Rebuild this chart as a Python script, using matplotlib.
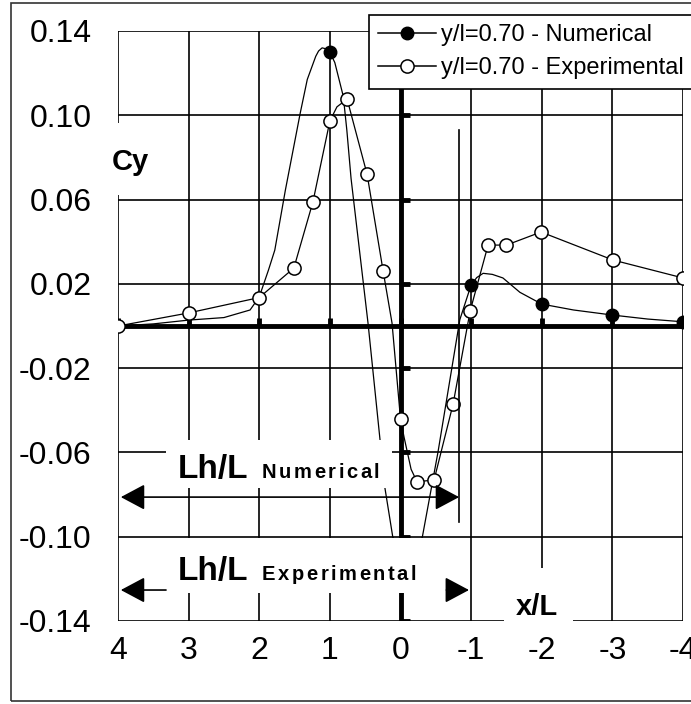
import matplotlib
matplotlib.use("Agg")
import matplotlib.pyplot as plt
import matplotlib.patches as patches
from matplotlib.font_manager import FontProperties
from matplotlib.textpath import TextToPath

plt.rcParams['font.family'] = ['Liberation Sans', 'DejaVu Sans']

num_curve_x = [4.0, 3.5, 3.0, 2.5, 2.13, 2.0, 1.87, 1.78, 1.63, 1.42, 1.32, 1.2, 1.16, 1.11,
               1.05, 1.0, 0.93, 0.81, 0.76, 0.70, 0.46, 0.29, 0.22, 0.11, -0.1, -0.31, -0.53,
               -0.84, -1.0, -1.08, -1.17, -1.3, -1.45, -1.69, -2.0, -2.45, -3.0, -3.5, -4.0]
num_curve_y = [0.0, 0.001, 0.0028, 0.004, 0.0076, 0.0138, 0.0265, 0.036, 0.0645, 0.101, 0.117,
               0.128, 0.1305, 0.132, 0.1315, 0.130, 0.125, 0.109, 0.093, 0.07, 0.0014, -0.054,
               -0.077, -0.10, -0.12, -0.10, -0.06, 0.003, 0.0195, 0.023, 0.025, 0.0245, 0.0228,
               0.016, 0.0104, 0.0076, 0.0052, 0.0033, 0.002]
num_x = [1.0, -1.0, -2.0, -3.0, -4.0]
num_y = [0.130, 0.0195, 0.0104, 0.0052, 0.002]

# experimental series
exp_x = [4.0, 3.0, 2.0, 1.51, 1.24, 1.0, 0.756, 0.473, 0.246, 0.0, -0.235, -0.476,
         -0.745, -0.986, -1.24, -1.50, -1.99, -3.01, -4.0]
exp_y = [0.0, 0.0062, 0.0135, 0.0275, 0.0589, 0.0973, 0.1077, 0.0720, 0.0261, -0.0441,
         -0.074, -0.073, -0.037, 0.0071, 0.0384, 0.0384, 0.0446, 0.0313, 0.0228]
exp_curve_x = [4.0, 3.0, 2.0, 1.51, 1.24, 1.0, 0.9, 0.756, 0.473, 0.246, 0.12, 0.0, -0.05,
               -0.15, -0.235, -0.476, -0.745, -0.986, -1.24, -1.50, -1.99, -3.01, -4.0]
exp_curve_y = [0.0, 0.0062, 0.0135, 0.0275, 0.0589, 0.0973, 0.104, 0.1077, 0.0720, 0.0261,
               0.0014, -0.0441, -0.0527, -0.068, -0.074, -0.073, -0.037, 0.0071, 0.0384,
               0.0384, 0.0446, 0.0313, 0.0228]

x_ticks = [4, 3, 2, 1, 0, -1, -2, -3, -4]
x_labels = ['4', '3', '2', '1', '0', '-1', '-2', '-3', '-4']
y_ticks = [0.14, 0.10, 0.06, 0.02, -0.02, -0.06, -0.10, -0.14]
y_labels = ['0.14', '0.10', '0.06', '0.02', '-0.02', '-0.06', '-0.10', '-0.14']

lh_num = -0.83   # end of Lh/L numerical
lh_exp = -0.97   # end of Lh/L experimental

fig = plt.figure(figsize=(6.91, 7.04), dpi=100)
ax = fig.add_axes([118 / 691, 83 / 704, 565 / 691, 590 / 704])
ax.set_xlim(4, -4)
ax.set_ylim(-0.14, 0.14)
for s in ax.spines.values():
    s.set_visible(False)

# grid + frame
for xv in x_ticks:
    ax.axvline(xv, color='black', lw=1.2, zorder=1)
for yv in y_ticks:
    ax.axhline(yv, color='black', lw=1.2, zorder=1)

# thick axes with short stubs
ax.axhline(0, color='black', lw=3.5, zorder=3)
ax.axvline(0, color='black', lw=3.5, zorder=3)
for xv in x_ticks:
    ax.plot([xv, xv], [0, 0.004], color='black', lw=3.5, zorder=3, solid_capstyle='butt')
for yv in y_ticks:
    ax.plot([0, -0.13], [yv, yv], color='black', lw=3.5, zorder=3, solid_capstyle='butt')

# curves
ax.plot(num_curve_x, num_curve_y, color='black', lw=0.9, zorder=2)
ax.plot(exp_curve_x, exp_curve_y, color='black', lw=0.9, zorder=2)
ax.plot(num_x, num_y, 'o', color='black', ms=9, zorder=4)
ax.plot(exp_x, exp_y, 'o', mfc='white', mec='black', mew=1.1, ms=9.5, zorder=4)

# legend (proxy handles)
h1, = ax.plot([], [], '-o', color='black', lw=1.1, ms=9, label='y/l=0.70 - Numerical')
h2, = ax.plot([], [], '-o', color='black', mfc='white', lw=1.1, ms=9.5, mew=1.1,
              label='y/l=0.70 - Experimental')
leg = fig.legend(handles=[h1, h2], loc='upper left', bbox_to_anchor=(369 / 691, 1 - 15 / 704),
                 fontsize=17, frameon=True, fancybox=False, framealpha=1, edgecolor='black',
                 handlelength=2.45, handletextpad=0.2, borderpad=0.4, labelspacing=0.45,
                 borderaxespad=0)
leg.get_frame().set_linewidth(1.2)
leg.set_zorder(10)

# tick labels
ax.set_xticks(x_ticks)
ax.set_xticklabels(x_labels)
ax.set_yticks(y_ticks)
ax.set_yticklabels(y_labels)
ax.tick_params(axis='both', length=0, labelsize=23)
ax.tick_params(axis='y', pad=19)
ax.tick_params(axis='x', pad=11)

# white label boxes
def white_box(x0, x1, y0, y1):
    ax.add_patch(patches.Rectangle((x0, y0), x1 - x0, y1 - y0, facecolor='white',
                                   edgecolor='none', zorder=5, clip_on=False))

white_box(3.32, 0.12, -0.0769, -0.0541)
white_box(3.32, -0.62, -0.1267, -0.1006)
white_box(4.25, 3.48, 0.0622, 0.0963)
white_box(-1.47, -2.44, -0.143, -0.1149)

ax.text(3.83, 0.078, 'Cy', fontsize=21, fontweight='bold', ha='center', va='center', zorder=6)
ax.text(-1.93, -0.1334, 'x/L', fontsize=21, fontweight='bold', ha='center', va='center', zorder=6)

t2p = TextToPath()

def spaced_text(x, y, s, size, gap):
    fp = FontProperties(family='Liberation Sans', weight='bold', size=size)
    for i, ch in enumerate(s):
        w = t2p.get_text_width_height_descent(s[:i], fp, ismath=False)[0] if i else 0
        ax.annotate(ch, (x, y), xytext=(w + i * gap, 0), textcoords='offset points',
                    fontproperties=fp, ha='left', va='baseline', zorder=6)

ax.text(3.16, -0.0721, 'Lh/L', fontsize=24, fontweight='bold', va='baseline', zorder=6)
spaced_text(1.96, -0.0721, 'Numerical', 14.5, 1.8)
ax.text(3.16, -0.1205, 'Lh/L', fontsize=24, fontweight='bold', va='baseline', zorder=6)
spaced_text(1.96, -0.1205, 'Experimental', 14.5, 1.8)

# Lh/L arrows
head = '-|>,head_length=0.75,head_width=0.4'
ax.annotate('', xy=(3.96, -0.0812), xytext=(lh_num, -0.0812),
            arrowprops=dict(arrowstyle='<|-|>,head_length=0.75,head_width=0.4', color='black',
                            lw=1.2, shrinkA=0, shrinkB=0, mutation_scale=20), zorder=6)
ax.plot([lh_num, lh_num], [0.093, -0.093], color='black', lw=1.2, zorder=6)
ax.annotate('', xy=(3.96, -0.1253), xytext=(3.32, -0.1253),
            arrowprops=dict(arrowstyle=head, color='black', lw=1.2, shrinkA=0, shrinkB=0,
                            mutation_scale=20), zorder=6)
ax.annotate('', xy=(lh_exp, -0.1253), xytext=(-0.65, -0.1253),
            arrowprops=dict(arrowstyle=head, color='black', lw=1.2, shrinkA=0, shrinkB=0,
                            mutation_scale=20), zorder=6)

# outer border of the picture
fig.patches.append(patches.Rectangle((11 / 691, 3 / 704), 1.0, 698 / 704, fill=False,
                                     edgecolor='#333333', lw=1.2, transform=fig.transFigure))

fig.savefig('out.png', dpi=100)
